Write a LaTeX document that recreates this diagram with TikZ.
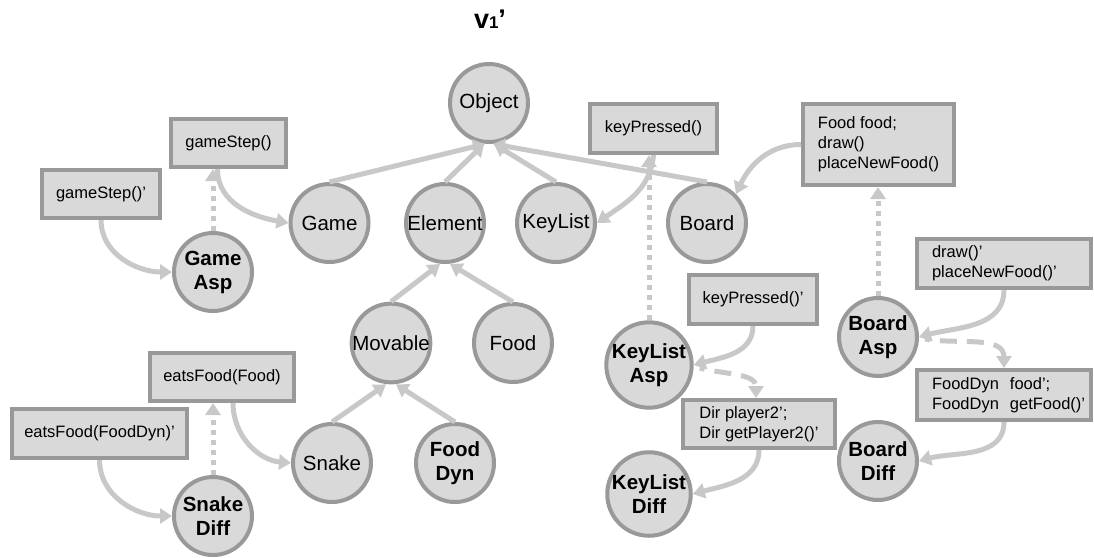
\documentclass[tikz,border=0pt]{standalone}
\usepackage{fontspec}
\setmainfont{Liberation Sans}
\usetikzlibrary{arrows.meta}
\definecolor{nfill}{HTML}{D9D9D9}
\definecolor{nborder}{HTML}{999999}
\definecolor{lnc}{HTML}{C8C8C8}
\begin{document}
\begin{tikzpicture}[x=1pt,y=1pt,
  cls/.style={circle, draw=nborder, fill=nfill, line width=4pt, minimum size=78pt, inner sep=0pt, align=center, font=\fontsize{20.5}{24}\selectfont},
  asp/.style={cls, font=\fontsize{20.5}{24}\selectfont\bfseries},
  codebox/.style={rectangle, draw=nborder, fill=nfill, line width=4pt, inner sep=0pt, align=left, font=\fontsize{16.5}{20}\selectfont},
  inh/.style={draw=lnc, line width=5pt, -{Triangle[length=12pt,width=15pt]}},
  link/.style={draw=lnc, line width=5pt, -{Triangle[length=12pt,width=15pt]}},
  dots/.style={draw=lnc, line width=5pt, dash pattern=on 5pt off 5pt, -{Triangle[length=12pt,width=15pt]}},
  dashes/.style={draw=lnc, line width=5pt, dash pattern=on 17pt off 10pt, dash phase=12pt, -{Triangle[length=12pt,width=15pt]}}
]
\useasboundingbox (0,0) rectangle (1094,-557);

% title
\node[inner sep=0pt, anchor=base] (title) at (490,-28) {\bfseries\fontsize{27}{27}\selectfont v\fontsize{17}{17}\selectfont 1\fontsize{27}{27}\selectfont’};

% class circles
\node[cls] (object) at (489,-103) {Object};
\node[cls] (game) at (329.5,-223) {Game};
\node[cls] (element) at (445,-223) {Element};
\node[cls] (keylist) at (556,-223) {KeyList};
\node[cls] (board) at (707,-223) {Board};
\node[cls] (movable) at (391,-343) {Movable};
\node[cls] (food) at (513,-343) {Food};
\node[cls] (snake) at (332,-463) {Snake};
\node[asp] (fooddyn) at (455,-463) {Food\\Dyn};
\node[asp] (gameasp) at (213,-272) {Game\\Asp};
\node[asp] (snakediff) at (213,-516) {Snake\\Diff};
\node[asp] (kla) at (649,-365) {KeyList\\Asp};
\node[asp] (kld) at (649,-494) {KeyList\\Diff};
\node[asp] (boardasp) at (878,-337) {Board\\Asp};
\node[asp] (boarddiff) at (878,-461) {Board\\Diff};

% code boxes
\node[codebox, minimum width=115pt, minimum height=48pt] (gs) at (228.5,-143) {gameStep()};
\node[codebox, minimum width=118pt, minimum height=48pt] (gsp) at (101,-194) {gameStep()’};
\node[codebox, minimum width=127pt, minimum height=49pt] (kp) at (653.5,-128.5) {keyPressed()};
\node[codebox, minimum width=151pt, minimum height=81pt] (foodbox) at (878.5,-144.5) {Food food;\\draw()\\placeNewFood()};
\node[codebox, minimum width=174pt, minimum height=49pt, text width=144pt, inner xsep=15pt] (drawp) at (1004,-263.5) {\mbox{draw()’}\\\mbox{placeNewFood()’}};
\node[codebox, minimum width=128pt, minimum height=49pt] (kpp) at (753,-299.5) {keyPressed()’};
\node[codebox, minimum width=152pt, minimum height=48pt] (dir) at (759,-424) {Dir player2’;\\Dir getPlayer2()’};
\node[codebox, minimum width=174pt, minimum height=50pt, text width=144pt, inner xsep=15pt] (fdbox) at (1004,-395) {\mbox{FoodDyn\ \ food’;}\\\mbox{FoodDyn\ \ getFood()’}};
\node[codebox, minimum width=144pt, minimum height=48pt] (ef) at (222,-377) {eatsFood(Food)};
\node[codebox, minimum width=175pt, minimum height=49pt] (efp) at (99.5,-433.5) {eatsFood(FoodDyn)’};

% inheritance
\draw[inh] (game.north) -- ([xshift=-4pt]object.south);
\draw[inh] (element.north) -- ([xshift=-5pt]object.south);
\draw[inh] (keylist.north) -- ([xshift=5pt]object.south);
\draw[inh] (board.north) -- ([xshift=4pt]object.south);
\draw[inh] (movable.north) -- ([xshift=-5pt]element.south);
\draw[inh] (food.north) -- ([xshift=5pt]element.south);
\draw[inh] (snake.north) -- ([xshift=-5pt]movable.south);
\draw[inh] (fooddyn.north) -- ([xshift=5pt]movable.south);

% Game
\draw[link] (gsp.south) to[out=-90,in=180] (gameasp.west);
\draw[dots] (gameasp.north) -- (gameasp.north |- gs.south);
\draw[link] ([xshift=-11pt]gs.south) to[out=-90,in=170] (game.west);

% Snake
\draw[link] (efp.south) to[out=-90,in=180] (snakediff.west);
\draw[dots] (snakediff.north) -- (snakediff.north |- ef.south);
\draw[link] ([xshift=11pt]ef.south) to[out=-90,in=175] (snake.west);

% KeyList
\draw[dots] (kla.north) -- (kla.north |- kp.south);
\draw[link] (kp.south) to[out=-95,in=35] (keylist.east);
\draw[link] (kpp.south) to[out=-90,in=15] (kla.east);
\draw[dashes] ([shift={(6pt,-3pt)}]kla.east) to[out=-15,in=90] ([xshift=-3pt]dir.north);
\draw[link] (dir.south) to[out=-90,in=15] (kld.east);

% Board
\draw[link] (foodbox.west) to[out=180,in=65] (board.north east);
\draw[dots] (boardasp.north) -- (boardasp.north |- foodbox.south);
\draw[link] (drawp.south) to[out=-90,in=15] (boardasp.east);
\draw[dashes] ([shift={(6pt,-2pt)}]boardasp.east) to[out=-10,in=90] (fdbox.north);
\draw[link] (fdbox.south) to[out=-90,in=15] (boarddiff.east);
\end{tikzpicture}
\end{document}
